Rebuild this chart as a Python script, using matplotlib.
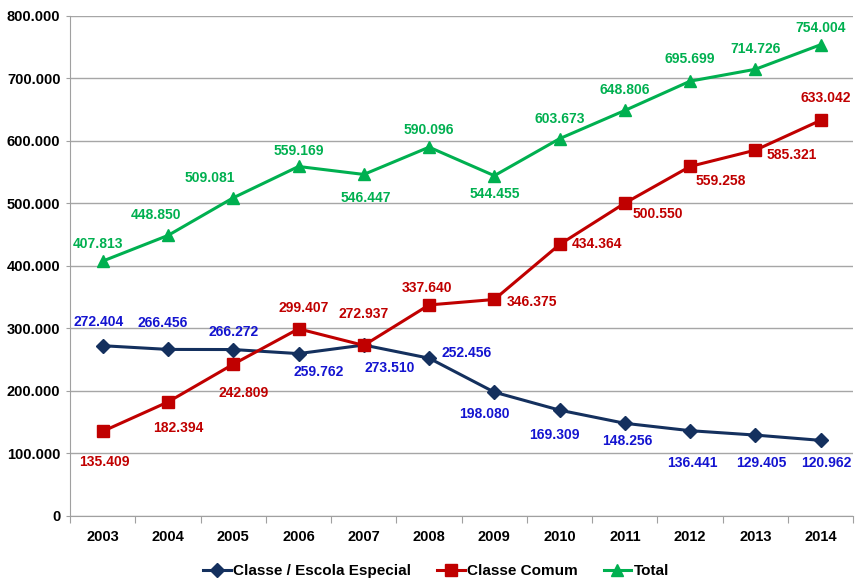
import matplotlib
matplotlib.use('Agg')
import matplotlib.pyplot as plt
from matplotlib.ticker import FuncFormatter, FixedLocator

years = ['2003', '2004', '2005', '2006', '2007', '2008',
         '2009', '2010', '2011', '2012', '2013', '2014']
especial = [272404, 266456, 266272, 259762, 273510, 252456,
            198080, 169309, 148256, 136441, 129405, 120962]
comum = [135409, 182394, 242809, 299407, 272937, 337640,
         346375, 434364, 500550, 559258, 585321, 633042]
total = [407813, 448850, 509081, 559169, 546447, 590096,
         544455, 603673, 648806, 695699, 714726, 754004]

# label offsets in pixels (dx, dy up), and horizontal alignment
off_especial = [(-4, 24, 'center'), (-5, 26, 'center'), (0, 18, 'center'),
                (20, -18, 'center'), (26, -23, 'center'), (12, 5, 'left'),
                (-10, -22, 'center'), (-5, -25, 'center'), (2, -18, 'center'),
                (2, -32, 'center'), (6, -28, 'center'), (6, -23, 'center')]
off_comum = [(2, -31, 'center'), (10, -26, 'center'), (10, -29, 'center'),
             (5, 21, 'center'), (0, 31, 'center'), (-2, 17, 'center'),
             (12, -3, 'left'), (12, 0, 'left'), (8, -11, 'left'),
             (5, -15, 'left'), (11, -5, 'left'), (5, 22, 'center')]
off_total = [(-5, 17, 'center'), (-12, 20, 'center'), (-23, 20, 'center'),
             (0, 15, 'center'), (2, -24, 'center'), (0, 17, 'center'),
             (0, -18, 'center'), (0, 20, 'center'), (0, 20, 'center'),
             (0, 22, 'center'), (0, 20, 'center'), (0, 17, 'center')]

plt.rcParams['font.family'] = ['Liberation Sans', 'DejaVu Sans']

def fmt(v):
    return '{:,}'.format(int(v)).replace(',', '.')

fig = plt.figure(figsize=(8.55, 5.83), dpi=100)
ax = fig.add_axes([0.082, 0.115, 0.916, 0.8576])

x = list(range(len(years)))
navy = '#14305E'
red = '#C00000'
green = '#00B050'

ax.plot(x, especial, color=navy, lw=2.2, marker='D', ms=7, label='Classe / Escola Especial')
ax.plot(x, comum, color=red, lw=2.2, marker='s', ms=8, label='Classe Comum')
ax.plot(x, total, color=green, lw=2.2, marker='^', ms=9, label='Total')

for vals, offs, col in [(especial, off_especial, '#1414D0'),
                        (comum, off_comum, red),
                        (total, off_total, green)]:
    for i, v in enumerate(vals):
        dx, dy, ha = offs[i]
        ax.annotate(fmt(v), (i, v), xytext=(dx, dy), textcoords='offset pixels',
                    ha=ha, va='center', color=col, fontsize=10, fontweight='bold')

ax.set_ylim(0, 800000)
ax.set_xlim(-0.5, 11.5)
ax.set_yticks(range(0, 800001, 100000))
ax.yaxis.set_major_formatter(FuncFormatter(lambda v, p: fmt(v)))
ax.xaxis.set_major_locator(FixedLocator([i - 0.5 for i in range(13)]))
ax.xaxis.set_major_formatter(FuncFormatter(lambda v, p: ''))
ax.xaxis.set_minor_locator(FixedLocator(x))
ax.set_xticklabels(years, minor=True)
ax.tick_params(axis='x', which='major', length=5, color='#A0A0A0', direction='out')
ax.tick_params(axis='x', which='minor', length=0, pad=10)
ax.tick_params(axis='y', length=3, color='#A0A0A0', pad=4)
for lab in ax.get_xticklabels(minor=True) + ax.get_yticklabels():
    lab.set_fontweight('bold')
    lab.set_fontsize(10.5)

ax.grid(axis='y', color='#A6A6A6', lw=1)
ax.set_axisbelow(True)
for s in ['top', 'right']:
    ax.spines[s].set_visible(False)
ax.spines['left'].set_color('#A0A0A0')
ax.spines['bottom'].set_color('#A0A0A0')

fig.legend(loc='lower center', ncol=3, frameon=False, bbox_to_anchor=(0.51, -0.015),
           prop={'weight': 'bold', 'size': 11}, handlelength=1.8, columnspacing=1.7,
           handletextpad=0.15)

fig.savefig('out.png', dpi=100)
